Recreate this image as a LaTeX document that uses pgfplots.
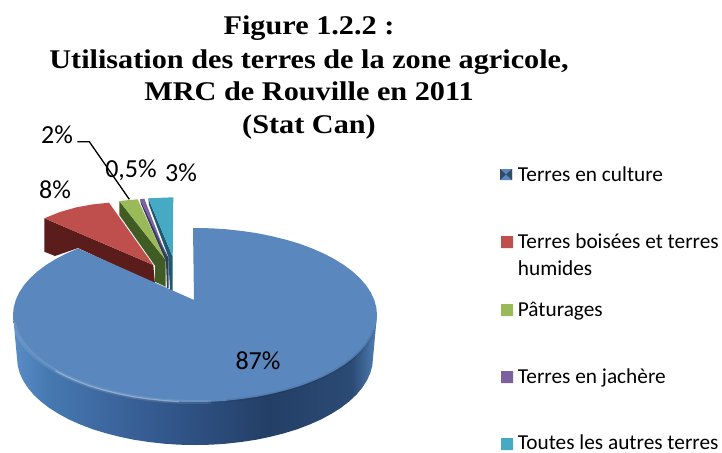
\documentclass[border=0pt]{standalone}
\usepackage{pgfplots}
\pgfplotsset{compat=1.18}
\usepackage{fontspec}
\setmainfont{Carlito}
\newfontfamily\titlefont[FakeStretch=1.12]{Liberation Serif}
\definecolor{pieblue}{HTML}{5A87BE}
\definecolor{piered}{HTML}{BE4F4C}
\definecolor{piegreen}{HTML}{9ABA59}
\definecolor{piepurple}{HTML}{7D60A0}
\definecolor{pieteal}{HTML}{46AAC5}
\definecolor{darkred}{HTML}{5A1D1B}
\definecolor{darkgreen}{HTML}{415B25}
\definecolor{darkpurple}{HTML}{2F3C60}
\definecolor{darkteal}{HTML}{1F5A70}
\definecolor{sa}{HTML}{5A8CC6}
\definecolor{sb}{HTML}{4678B0}
\definecolor{sc}{HTML}{34598F}
\definecolor{sd}{HTML}{233F66}
\definecolor{se}{HTML}{2B4A74}
\definecolor{sf}{HTML}{5080B5}
\pgfdeclarehorizontalshading{sideblue}{100bp}{color(0bp)=(sa);color(25bp)=(sa);color(30bp)=(sb);color(45bp)=(sc);color(60bp)=(sd);color(71.5bp)=(se);color(75bp)=(sf);color(100bp)=(sf)}
\begin{document}
\begin{tikzpicture}
\begin{axis}[
  scale only axis, width=722pt, height=452pt,
  xmin=0, xmax=722, ymin=0, ymax=452, y dir=reverse,
  hide axis, clip=false]
% page background
\addplot[fill=white, draw=none] coordinates {(0,0) (722,0) (722,452) (0,452)} \closedcycle;
% slice walls
\addplot[fill=darkred, draw=none] coordinates {(44.3,218.3) (153.3,265) (155,284) (78,248) (55,256) (44.3,251.7) (44.3,218.3)};
\addplot[fill=darkgreen, draw=none] coordinates {(119.3,201) (119.3,215) (155,265.7) (155,281.7) (165.7,286.7) (165.7,260) (119.3,201)};
\addplot[fill=darkpurple, draw=none] coordinates {(140,199.3) (141,204) (166,262) (167,288) (168.5,288) (168.5,258) (140,199.3)};
\addplot[fill=darkteal, draw=none] coordinates {(148.3,198.3) (149,205) (168.3,256.7) (170,290) (172.7,290.7) (172.7,256.7) (148.3,198.3)};
% slice tops
\addplot[fill=piered, draw=none] coordinates {(44.3,218.3) (60,212) (76.7,207.3) (92,204.5) (109,202.7) (153.3,265) (44.3,218.3)};
\addplot[fill=piegreen, draw=none] coordinates {(119.3,201) (137.7,199.3) (165.5,260) (119.3,201)};
\addplot[fill=piepurple, draw=none] coordinates {(140,199.3) (144.3,198.7) (167,257) (140,199.3)};
\addplot[fill=pieteal, draw=none] coordinates {(148.3,198.3) (173.3,197.3) (172.7,256.7) (148.3,198.3)};
% main slice wall
\addplot[shading=sideblue, draw=none] coordinates {(13,315) (17,358) (17.7,365.6) (19.7,373.1) (23.1,380.5) (27.8,387.8) (33.7,394.8) (40.9,401.5) (49.2,407.9) (58.7,413.9) (69.1,419.5) (80.6,424.6) (92.9,429.3) (106,433.3) (119.8,436.8) (134.2,439.8) (148.9,442) (164.1,443.7) (179.4,444.7) (195,445) (210.6,444.7) (225.9,443.7) (241.1,442) (255.8,439.8) (270.2,436.8) (284,433.3) (297.1,429.3) (309.4,424.6) (320.9,419.5) (331.3,413.9) (340.8,407.9) (349.1,401.5) (356.3,394.8) (362.2,387.8) (366.9,380.5) (370.3,373.1) (372.3,365.6) (373,358) (377,315) (13,315)};
% main slice top
\addplot[fill=pieblue, draw=none] coordinates {(193,228) (195,228) (210.9,228.3) (226.6,229.3) (242.1,231) (257.2,233.2) (271.9,236.2) (286,239.7) (299.4,243.7) (312,248.4) (323.7,253.5) (334.4,259.1) (344.1,265.1) (352.6,271.5) (359.9,278.2) (366,285.2) (370.8,292.5) (374.2,299.9) (376.3,307.4) (377,315) (376.3,322.6) (374.2,330.1) (370.8,337.5) (366,344.8) (359.9,351.8) (352.6,358.5) (344.1,364.9) (334.4,370.9) (323.7,376.5) (312,381.6) (299.4,386.3) (286,390.3) (271.9,393.8) (257.2,396.8) (242.1,399) (226.6,400.7) (210.9,401.7) (195,402) (179.1,401.7) (163.4,400.7) (147.9,399) (132.8,396.8) (118.1,393.8) (104,390.3) (90.6,386.3) (78,381.6) (66.3,376.5) (55.6,370.9) (45.9,364.9) (37.4,358.5) (30.1,351.8) (24,344.8) (19.2,337.5) (15.8,330.1) (13.7,322.6) (13,315) (13.7,307.4) (15.8,299.9) (19.2,292.5) (24,285.2) (30.1,278.2) (37.4,271.5) (45.9,265.1) (55.6,259.1) (66.3,253.5) (78,248.4) (194,300) (193,228)};
% rim bevel
\addplot[draw=white, opacity=0.10, line width=4pt] coordinates {(13.7,322.6) (15.8,330.1) (19.2,337.5) (24,344.8) (30.1,351.8) (37.4,358.5) (45.9,364.9) (55.6,370.9) (66.3,376.5) (78,381.6) (90.6,386.3) (104,390.3) (118.1,393.8) (132.8,396.8) (147.9,399) (163.4,400.7) (179.1,401.7) (195,402) (210.9,401.7)};
\addplot[draw=white, opacity=0.30, line width=1.2pt] coordinates {(55.6,370.9) (66.3,376.5) (78,381.6) (90.6,386.3) (104,390.3) (118.1,393.8) (132.8,396.8) (147.9,399) (163.4,400.7) (179.1,401.7)};
\addplot[draw=black, opacity=0.08, line width=3pt] coordinates {(226.6,400.7) (242.1,399) (257.2,396.8) (271.9,393.8) (286,390.3) (299.4,386.3) (312,381.6) (323.7,376.5) (334.4,370.9) (344.1,364.9) (352.6,358.5) (359.9,351.8) (366,344.8) (370.8,337.5) (374.2,330.1)};
% leader line
\addplot[draw=black, line width=1.3pt] coordinates {(77.3,141.7) (89.3,141.7) (129.3,199.3)};
% legend keys
\addplot[fill=pieblue, draw=none] coordinates {(500,169) (512,169) (512,180) (500,180) (500,169)};
\addplot[fill=black!45!pieblue, draw=none] coordinates {(500,169) (506,174.5) (500,180) (500,169)};
\addplot[fill=black!45!pieblue, draw=none] coordinates {(512,169) (506,174.5) (512,180) (512,169)};
\addplot[fill=piered, draw=none] coordinates {(501,236) (513,236) (513,248) (501,248) (501,236)};
\addplot[fill=piegreen, draw=none] coordinates {(501,304) (513,304) (513,316) (501,316) (501,304)};
\addplot[fill=piepurple, draw=none] coordinates {(501,371) (513,371) (513,383) (501,383) (501,371)};
\addplot[fill=pieteal, draw=none] coordinates {(501,438) (513,438) (513,450) (501,450) (501,438)};
% title
\begin{scope}[every node/.style={font=\titlefont\bfseries\fontsize{27}{29}\selectfont, anchor=base, inner sep=0pt}]
\node at (axis cs:309,35) {Figure 1.2.2 :};
\node at (axis cs:309,68) {Utilisation des terres de la zone agricole,};
\node at (axis cs:309,100) {MRC de Rouville en 2011};
\node at (axis cs:309,133) {(Stat Can)};
\end{scope}
% data labels
\begin{scope}[every node/.style={font=\fontsize{26}{28}\selectfont, anchor=center}]
\node at (axis cs:57,135) {2\%};
\node at (axis cs:131,170) {0,5\%};
\node at (axis cs:181,173) {3\%};
\node at (axis cs:55,190) {8\%};
\node at (axis cs:258,361) {87\%};
\end{scope}
% legend text
\begin{scope}[every node/.style={font=\fontsize{21.3}{23}\selectfont, anchor=base west, inner sep=0pt}]
\node at (axis cs:517.7,181) {Terres en culture};
\node at (axis cs:517.7,248) {Terres boisées et terres};
\node at (axis cs:517.7,275) {humides};
\node at (axis cs:517.7,316) {Pâturages};
\node at (axis cs:517.7,383) {Terres en jachère};
\node at (axis cs:517.7,449) {Toutes les autres terres};
\end{scope}
\end{axis}
\end{tikzpicture}
\end{document}
